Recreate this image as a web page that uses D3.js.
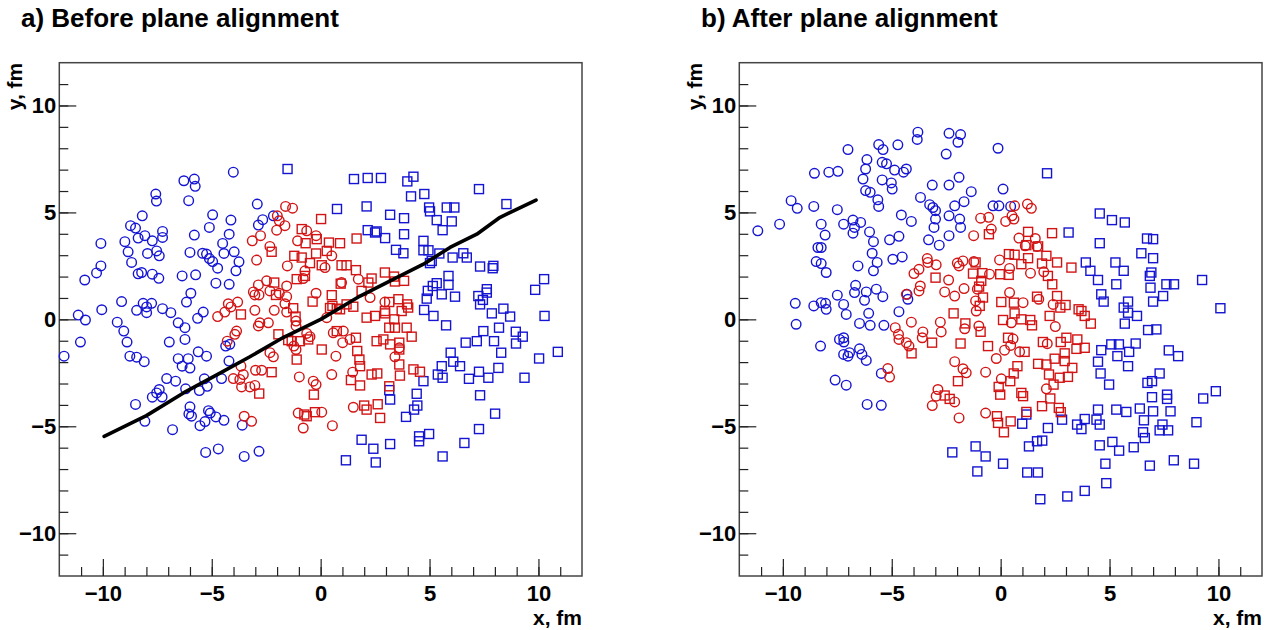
<!DOCTYPE html>
<html>
<head>
<meta charset="utf-8">
<script src="https://cdn.jsdelivr.net/npm/d3@7"></script>
<style>
  body { margin: 0; background: #fff; }
  text { font-family: "Liberation Sans", Arial, Helvetica, sans-serif; font-weight: bold; fill: #000; }
</style>
</head>
<body>
<script>
// panel a: before plane alignment
const aBlueCircles = [[-4.01,6.88],[-6.28,6.48],[-5.80,6.56],[-5.76,6.22],[-7.57,5.86],[-7.54,5.53],[-6.06,5.55],[-2.91,5.39],[-8.19,4.84],[-4.96,4.89],[-4.12,4.64],[-2.17,4.84],[-2.66,4.66],[-2.86,4.41],[-8.73,4.38],[-8.50,4.27],[-5.11,4.30],[-7.26,4.11],[-8.07,3.91],[-7.26,3.83],[-8.38,3.80],[-5.80,3.94],[-4.20,3.98],[-10.09,3.55],[-8.99,3.63],[-7.73,3.67],[-4.50,3.55],[-8.84,3.16],[-7.95,3.08],[-7.53,3.20],[-7.41,2.97],[-6.00,3.13],[-5.42,3.09],[-5.24,3.05],[-5.11,2.84],[-4.96,2.70],[-4.44,3.08],[-3.97,3.16],[-3.75,2.69],[-8.68,2.66],[-10.09,2.50],[-10.29,2.17],[-4.73,2.39],[-3.89,2.27],[-8.38,2.13],[-8.22,2.19],[-7.73,2.11],[-7.43,1.92],[-6.36,2.03],[-5.74,2.08],[-10.83,1.84],[-4.81,1.69],[-4.20,1.64],[-5.96,1.22],[-9.14,0.83],[-10.05,0.45],[-8.15,0.75],[-7.76,0.75],[-7.99,0.58],[-8.45,0.42],[-7.26,0.50],[-6.88,0.31],[-6.16,0.81],[-5.39,0.34],[-11.13,0.20],[-7.99,0.31],
  [-10.80,-0.03],[-9.34,-0.13],[-11.03,-1.06],[-11.78,-1.72],[-9.04,-0.55],[-8.89,-1.06],[-8.76,-1.72],[-8.45,-1.77],[-8.10,-1.98],[-6.95,-1.06],[-6.54,-0.16],[-6.23,-0.39],[-6.23,-0.94],[-5.65,0.05],[-6.54,-1.84],[-6.08,-1.84],[-6.36,-2.19],[-6.00,-2.28],[-5.62,-1.52],[-5.24,-1.72],[-7.07,-2.77],[-6.66,-2.89],[-6.20,-3.25],[-5.57,-3.33],[-5.34,-2.78],[-5.21,-3.13],[-4.55,-2.77],[-4.36,-1.25],[-4.17,-1.17],[-4.21,-1.95],[-7.41,-3.28],[-7.53,-3.44],[-7.73,-3.64],[-7.28,-3.63],[-8.50,-3.98],[-8.07,-4.77],[-6.80,-5.16],[-6.00,-4.09],[-6.05,-4.42],[-5.93,-4.53],[-5.15,-4.27],[-5.07,-4.38],[-4.81,-4.56],[-4.44,-4.72],[-5.31,-4.78],[-5.54,-4.97],[-3.60,-4.95],[-5.28,-6.22],[-4.70,-6.06],[-3.51,-6.41],[-2.83,-6.17]];

const aRedCircles = [[-1.61,5.28],[-1.29,5.20],[-1.99,4.84],[-1.90,4.61],[-1.64,4.38],[-2.02,4.17],[-0.64,4.14],[-0.21,3.91],[-1.06,3.67],[-3.14,3.67],[-2.76,3.91],[-2.33,3.41],[-2.94,2.77],[-1.53,2.50],[-0.72,2.27],[-0.80,1.91],[-2.48,1.80],[-2.86,1.61],[-1.56,1.56],[-2.33,1.33],[-3.09,1.28],[-3.02,1.14],[-2.83,1.14],[-1.90,1.22],[-1.56,1.06],[-0.21,1.22],[-1.64,0.73],[-1.56,0.34],[-2.13,0.42],[-3.02,0.42],[-3.81,0.81],[-4.24,0.73],[-4.12,0.58],[-4.40,0.34],[-4.73,0.13],
  [-2.79,-0.16],[-2.86,-0.31],[-2.40,-0.16],[-1.13,-0.08],[-1.13,-0.31],[-3.86,-0.55],[-3.94,-0.70],[-4.29,-1.02],[-3.66,-2.19],[-3.55,-2.58],[-4.01,-2.77],[-3.71,-2.81],[-3.63,-3.16],[-3.25,-3.16],[-3.02,-3.09],[-2.99,-2.38],[-2.71,-2.38],[-2.33,-1.56],[-2.17,-1.75],[-0.98,-2.69],[-0.64,-0.66],[-0.49,-0.81],[-1.13,-1.41],[-1.23,-1.25],[-3.51,-4.53],[-3.17,-4.77],[-1.03,-4.38],[-0.80,-5.08],[-0.34,-2.89],[-0.21,-3.05],
  [0.51,2.97],[0.20,2.42],[0.96,1.72],[1.73,1.88],[2.27,1.02],[2.95,0.81],[0.28,0.08],[0.58,-0.63],[1.04,-0.55],[1.01,-1.09],[1.35,-0.94],[0.70,-1.72],[0.51,-2.58],[1.47,-2.47],[3.41,-1.75],[3.61,-1.33],[0.05,-4.34],[1.50,-4.11],[0.54,-4.97]];

const aRedSquares = [[-0.87,4.22],[-0.69,3.56],[-2.25,3.16],[-1.21,2.97],[-0.87,2.89],[-0.21,3.08],[-0.49,2.63],[-0.72,2.03],[-1.10,1.88],[-2.13,1.72],[-2.05,1.14],[-0.37,0.83],[-1.26,0.52],[-3.66,0.23],[-1.15,0.13],[-0.18,3.75],
  [-1.94,-0.70],[-1.49,-0.97],[-1.33,-1.02],[-0.95,-1.02],[-0.57,-0.94],[-1.10,-1.88],[-2.25,-2.47],[-2.82,-3.47],[-0.31,-3.52],[-0.75,-4.45],[-0.64,-4.53],[-0.26,-4.34],
  [0.02,4.69],[0.38,3.59],[0.89,3.56],[1.65,3.78],[0.28,3.20],[0.05,2.53],[0.96,2.53],[1.19,2.53],[1.62,2.30],[0.92,1.67],[2.34,1.91],[2.19,1.72],[2.95,2.19],[3.37,2.0],[3.41,1.77],[3.83,1.80],[1.88,1.33],[0.51,1.13],[0.54,0.63],[0.43,0.53],[0.89,0.47],[1.19,0.70],[1.50,0.59],[2.11,0.08],[2.50,0.16],[2.95,0.39],[3.15,0.81],[3.57,0.94],[3.97,0.70],[4.02,0.55],[3.38,0.0],[3.72,0.39],[2.96,0.28],[0.74,0.50],
  [3.15,-0.39],[3.41,-0.39],[3.95,-0.39],[4.18,-0.81],[0.74,-0.55],[1.62,-0.86],[2.57,-1.02],[2.88,-0.94],[3.19,-1.17],[3.61,-1.09],[3.61,-1.41],[0.05,-1.41],[1.68,-1.48],[1.78,-1.88],[1.81,-2.19],[1.39,-2.84],[1.81,-3.09],[2.34,-2.58],[2.60,-2.53],[3.61,-2.11],[3.64,-2.63],[4.26,-2.34],[4.56,-2.45],[3.15,-3.13],[2.0,-4.03],[2.11,-4.22],[2.62,-3.97],[2.73,-4.61]];

const aBlueSquares = [[-1.52,7.03],[1.53,6.56],[2.16,6.61],[2.77,6.61],[3.98,6.45],[4.26,6.67],[7.27,6.09],[4.15,5.75],[4.76,5.86],[0.75,5.16],[2.11,5.28],[3.19,4.89],[3.83,4.73],[4.98,5.23],[5.02,5.05],[5.79,5.23],[6.14,5.23],[5.33,4.64],[6.02,4.58],[5.60,4.17],[8.53,5.39],[2.16,4.17],[2.50,4.06],[2.57,4.11],[2.96,3.80],[3.83,3.98],[4.72,3.67],[4.72,3.23],[4.95,3.23],[3.46,3.25],[3.80,3.09],[5.45,3.08],[5.10,2.73],[5.02,2.63],[6.06,2.89],[6.55,3.09],[6.71,2.89],[7.32,2.47],[7.93,2.50],[7.90,2.39],[10.26,1.88],[9.85,1.38],[5.87,2.03],[5.87,1.61],[5.33,1.69],[5.15,1.56],[4.92,1.33],[4.87,0.97],[5.56,1.17],[6.17,1.06],[7.24,1.09],[7.63,1.41],[7.63,1.25],[7.45,0.91],[7.32,0.70],[4.75,0.44],[5.18,0.16],[7.86,0.28],[8.39,0.50],[8.70,0.13],[10.28,0.16],
  [5.76,-0.28],[8.19,-0.39],[7.47,-0.55],[8.96,-0.58],[9.28,-0.81],[8.97,-1.13],[10.03,-1.83],[10.89,-1.52],[7.17,-1.02],[6.66,-1.09],[7.96,-1.02],[8.29,-1.56],[5.97,-1.56],[6.09,-1.98],[6.40,-2.19],[5.56,-2.19],[5.38,-2.58],[5.60,-2.73],[4.72,-2.89],[6.81,-2.78],[7.27,-2.45],[7.70,-2.73],[8.16,-2.27],[9.36,-2.73],[7.32,-3.55],[8.01,-4.41],[7.27,-5.13],[4.41,-3.48],[4.44,-4.03],[4.29,-4.22],[3.92,-4.56],[3.15,-3.31],[3.19,-3.75],[4.98,-5.36],[4.52,-5.47],[4.52,-5.70],[6.60,-5.78],[5.60,-6.41],[3.19,-5.83],[2.42,-6.05],[1.88,-5.63],[1.16,-6.59],[2.53,-6.69]];

// fitted event plane line in panel a
const aLine = [[-9.94,-5.47],[-8.0,-4.5],[-6.3,-3.44],[-4.6,-2.5],[-3.25,-1.75],[-1.72,-0.85],[0,0],[1.81,1.09],[3.49,1.95],[4.72,2.58],[5.94,3.36],[7.17,3.98],[8.24,4.77],[9.89,5.58]];

// panel b: after plane alignment
const bBlueCircles = [[-11.15,4.14],[-10.15,4.45],[-9.62,5.55],[-9.34,5.19],[-8.58,5.28],[-8.55,6.83],[-7.89,6.88],[-7.47,6.92],[-7.01,7.94],[-7.50,5.13],[-8.24,4.45],[-8.06,3.94],[-8.39,3.36],[-8.24,3.36],[-8.47,2.70],[-8.24,2.61],[-8.01,2.19],[-7.21,4.45],[-6.78,4.64],[-6.43,4.53],[-6.71,4.30],[-6.78,4.03],[-6.02,4.09],[-5.84,3.63],[-5.90,3.09],[-5.67,2.66],[-5.84,2.27],[-6.55,2.5],[-6.14,7.47],[-6.20,7.03],[-6.32,6.56],[-6.20,6.02],[-5.99,5.94],[-5.64,5.59],[-5.60,5.28],[-5.60,8.17],[-5.40,7.94],[-5.44,7.34],[-5.24,7.27],[-5.44,6.52],[-5.02,6.38],[-4.98,6.09],[-4.72,8.16],[-4.87,6.98],[-4.46,6.88],[-4.33,7.03],[-4.56,4.88],[-4.10,4.58],[-5.10,3.72],[-4.67,3.88],[-4.95,2.81],[-4.52,2.92],[-3.80,8.75],[-3.83,8.41],[-3.68,5.70],[-3.26,5.36],[-3.14,6.28],[-3.11,5.23],[-2.99,5.08],[-2.99,4.69],[-3.06,4.30],[-3.31,3.72],[-2.82,3.47],[-2.37,8.70],[-1.84,8.64],[-1.96,8.28],[-2.50,7.73],[-2.37,6.28],[-1.91,6.64],[-1.35,5.97],[-1.68,5.50],[-2.11,5.31],[-2.37,4.84],[-1.88,4.69],[-1.84,4.30],[-2.37,3.91],[-9.43,0.75],[-8.58,0.63],[-8.24,0.78],[-8.04,0.75],[-8.01,0.47],[-7.50,1.13],[-7.21,0.70],[-7.09,0.23],[-6.66,1.59],[-6.71,1.25],[-6.17,1.28],[-6.25,0.89],[-5.71,1.41],[-5.41,1.06],[-6.06,0.28],[-4.67,0.36],[-4.30,1.17],[-4.26,0.94],
  [-9.39,-0.23],[-6.48,-0.19],[-5.99,-0.28],[-5.36,-0.28],[-8.27,-1.25],[-7.40,-0.94],[-7.21,-0.86],[-7.20,-1.06],[-7.21,-1.64],[-7.01,-1.72],[-6.94,-1.56],[-6.48,-1.38],[-6.37,-1.64],[-6.17,-1.92],[-5.48,-2.53],[-7.60,-2.84],[-7.09,-3.08],[-6.13,-3.98],[-5.48,-4.02],
  [-0.12,8.0],[0.11,6.09],[-0.35,5.31],[-0.08,5.31],[0.46,5.28]];

const bRedCircles = [[-0.92,4.73],[-0.55,4.77],[-1.24,3.91],[-3.37,2.84],[-3.34,2.66],[-3.75,2.34],[-3.98,2.14],[-2.96,2.55],[-1.99,2.63],[-1.91,2.50],[-1.73,2.73],[-1.23,2.70],[-2.39,1.84],[-1.68,1.44],[-2.57,1.28],[-2.11,1.09],[-3.69,1.56],[-3.75,1.33],[-4.33,1.17],[-1.07,1.41],[-1.15,0.86],[-1.12,0.39],
  [0.64,5.31],[1.23,5.39],[1.41,5.19],[0.52,4.84],[0.61,4.69],[0.23,4.58],[-0.43,4.22],[0.84,3.80],[1.59,3.78],[1.67,3.41],[1.13,3.44],[-0.05,2.78],[0.41,2.38],[-0.51,2.11],[1.37,2.16],[1.98,2.22],[0.41,1.25],[1.75,0.94],[2.41,0.70],[1.03,0.78],
  [-4.84,-0.39],[-4.69,-0.70],[-4.67,-0.94],[-4.33,-1.09],[-4.21,-1.25],[-4.10,-0.13],[-3.57,-0.59],[-3.60,-0.86],[-2.77,-0.13],[-2.73,-0.59],[-5.18,-2.30],[-5.10,-2.70],[-2.11,-1.98],[-1.73,-2.31],[-1.58,-2.5],[-0.69,-2.47],[-2.88,-3.28],[-2.96,-3.59],[-3.14,-4.03],[-2.11,-3.86],[-1.91,-4.61],[-0.69,-4.38],[-1.65,-0.44],[-1.0,-0.31],
  [0.49,-0.16],[2.51,-0.34],[0.57,-0.91],[0.46,-1.22],[0.18,-1.44],[-0.20,-1.83],[0.87,-1.52],[0.03,-2.78],[2.10,-3.25],[2.14,-1.14]];

const bRedSquares = [[-2.99,1.95],[-1.15,2.66],[-1.27,2.14],[-0.84,2.16],[-0.89,1.80],[-0.99,1.53],[-0.81,1.02],[-0.96,0.63],[-2.16,0.28],[-0.54,3.98],
  [1.26,4.09],[2.36,4.03],[1.18,3.47],[1.72,3.41],[0.38,3.05],[0.64,3.02],[1.26,2.86],[2.10,2.97],[0.95,2.58],[1.90,2.61],[2.59,2.66],[3.25,2.42],[-0.02,2.11],[0.37,2.08],[2.17,2.03],[2.37,1.64],[2.59,1.09],[0.03,0.81],[0.61,0.78],[1.67,1.06],[2.74,0.55],[2.98,0.67],[0.64,0.28],[2.25,0.16],[3.58,0.47],[3.71,0.39],[3.86,0.16],
  [-1.62,-0.19],[-0.92,-0.58],[-3.15,-1.09],[-4.09,-1.59],[-1.84,-1.13],[-0.58,-1.25],[-1.96,-2.89],[-2.57,-3.56],[-2.34,-3.72],
  [0.11,-0.03],[1.36,-0.03],[1.44,-0.28],[4.14,-0.20],[0.34,-0.86],[1.10,-1.52],[1.94,-1.06],[2.76,-1.06],[3.02,-0.86],[3.52,-0.94],[3.48,-1.38],[3.86,-1.33],[2.94,-1.59],[2.48,-1.84],[2.94,-1.95],[1.72,-2.08],[2.10,-2.11],[3.29,-2.27],[0.77,-2.19],[0.60,-2.53],[2.22,-2.58],[2.71,-2.73],[3.09,-2.69],[0.44,-2.89],[-0.09,-3.16],[-0.02,-3.52],[2.43,-3.05],[0.95,-3.44],[1.03,-3.59],[2.28,-3.70],[1.90,-4.06],[1.18,-4.33],[2.67,-4.14],[2.76,-4.34],[-0.17,-4.53],[-0.12,-4.84],[0.15,-5.28],[0.46,-4.77],[0.95,0.0]];

const bBlueSquares = [[2.13,6.83],[4.55,4.95],[5.11,4.64],[5.70,4.53],[3.12,4.06],[4.55,3.56],[6.72,3.78],[7.0,3.75],[6.46,3.09],[7.0,2.86],[3.91,2.66],[4.12,2.27],[5.27,2.66],[5.65,2.27],[4.47,1.84],[5.31,1.64],[6.92,2.19],[6.85,2.03],[6.88,1.48],[7.61,1.64],[7.96,1.64],[9.25,1.84],[4.62,1.17],[4.73,0.83],[5.85,0.83],[5.65,0.55],[7.0,0.83],[7.46,1.09],[10.09,0.52],[6.26,0.16],[5.85,0.31],
  [-2.22,-6.22],[-1.15,-5.94],[-0.69,-6.41],[-1.07,-7.11],
  [5.70,-0.20],[6.77,-0.50],[7.15,-0.47],[5.08,-1.17],[5.43,-1.17],[6.20,-1.13],[4.62,-1.44],[5.36,-1.72],[5.85,-2.19],[5.90,-1.52],[4.47,-1.98],[4.59,-2.53],[4.98,-3.05],[7.72,-1.45],[8.15,-1.72],[6.74,-2.97],[6.95,-2.89],[7.30,-2.53],[6.95,-3.64],[7.64,-3.52],[7.64,-3.72],[9.30,-3.70],[9.88,-3.36],[4.47,-4.22],[5.31,-4.22],[5.77,-4.33],[6.39,-4.17],[7.0,-4.30],[7.80,-4.30],[3.86,-4.66],[3.51,-4.92],[3.71,-5.13],[4.40,-4.69],[4.55,-4.92],[2.82,-4.69],[2.17,-5.08],[1.18,-4.45],[0.99,-4.88],[6.58,-4.72],[7.43,-4.92],[7.30,-5.19],[7.69,-5.19],[8.99,-4.81],[6.54,-5.28],[6.62,-5.55],[5.13,-5.73],[5.44,-6.14],[6.11,-5.98],[4.55,-5.89],[1.30,-5.94],[1.67,-5.70],[1.91,-5.67],[0.11,-6.75],[1.22,-7.16],[1.71,-7.16],[4.81,-6.75],[6.85,-6.84],[7.95,-6.59],[8.88,-6.75],[4.85,-7.66],[3.86,-8.02],[3.06,-8.28],[1.82,-8.41]];

const majorTicks = [-10, -5, 0, 5, 10];
const minorTicks = d3.range(-11, 12);

const WIDTH = 1274, HEIGHT = 630;
const TOP = 62.7, BOTTOM = 576, PW = 522.7;
const BLUE = '#1414d2', RED = '#d21414';

const svg = d3.select('body').append('svg')
  .attr('width', WIDTH)
  .attr('height', HEIGHT);

function drawPanel(left, title, titleX, blueC, redC, redS, blueS, line) {
  const x = d3.scaleLinear().domain([-12, 12]).range([left, left + PW]);
  const y = d3.scaleLinear().domain([-12, 12]).range([BOTTOM, TOP]);
  const g = svg.append('g');

  g.append('text').attr('x', titleX).attr('y', 27)
    .style('font-size', '26px').text(title);

  // frame
  g.append('rect')
    .attr('x', left).attr('y', TOP)
    .attr('width', PW).attr('height', BOTTOM - TOP)
    .attr('fill', 'none').attr('stroke', '#444').attr('stroke-width', 1.5);

  // ticks point inward, minor every 1, major every 5
  const xa = g.append('g').attr('transform', `translate(0,${BOTTOM})`);
  xa.call(d3.axisBottom(x).tickValues(minorTicks).tickSize(-9).tickFormat(''));
  xa.append('g').call(d3.axisBottom(x).tickValues(majorTicks).tickSize(-17).tickPadding(9));
  const ya = g.append('g').attr('transform', `translate(${left},0)`);
  ya.call(d3.axisLeft(y).tickValues(minorTicks).tickSize(-9).tickFormat(''));
  ya.append('g').call(d3.axisLeft(y).tickValues(majorTicks).tickSize(-17).tickPadding(3));
  g.selectAll('.domain').remove();
  g.selectAll('.tick line').attr('stroke', '#222').attr('stroke-width', 1.2);
  g.selectAll('.tick text').style('font-size', '22px').style('font-family', '"Liberation Sans", Arial, sans-serif')
    .style('font-weight', 'bold').attr('fill', '#000');

  g.append('text').attr('x', left + PW).attr('y', 625)
    .attr('text-anchor', 'end').style('font-size', '21px').text('x, fm');
  g.append('text')
    .attr('transform', `translate(${left - 37},${TOP}) rotate(-90)`)
    .attr('text-anchor', 'end').style('font-size', '21px').text('y, fm');

  const marks = g.append('g').attr('fill', 'none').attr('stroke-width', 1.4);
  marks.append('g').selectAll('circle').data(blueC).join('circle')
    .attr('cx', d => x(d[0])).attr('cy', d => y(d[1])).attr('r', 4.8).attr('stroke', BLUE);
  marks.append('g').selectAll('rect').data(blueS).join('rect')
    .attr('x', d => x(d[0]) - 4.5).attr('y', d => y(d[1]) - 4.5)
    .attr('width', 9).attr('height', 9).attr('stroke', BLUE);
  marks.append('g').selectAll('circle').data(redC).join('circle')
    .attr('cx', d => x(d[0])).attr('cy', d => y(d[1])).attr('r', 4.8).attr('stroke', RED);
  marks.append('g').selectAll('rect').data(redS).join('rect')
    .attr('x', d => x(d[0]) - 4.5).attr('y', d => y(d[1]) - 4.5)
    .attr('width', 9).attr('height', 9).attr('stroke', RED);

  if (line) {
    g.append('path').datum(line)
      .attr('d', d3.line().x(d => x(d[0])).y(d => y(d[1])))
      .attr('fill', 'none').attr('stroke', '#000').attr('stroke-width', 3.6)
      .attr('stroke-linecap', 'round').attr('stroke-linejoin', 'round');
  }
}

drawPanel(59.3, 'a) Before plane alignment', 21, aBlueCircles, aRedCircles, aRedSquares, aBlueSquares, aLine);
drawPanel(739.3, 'b) After plane alignment', 701, bBlueCircles, bRedCircles, bRedSquares, bBlueSquares, null);
</script>
</body>
</html>
